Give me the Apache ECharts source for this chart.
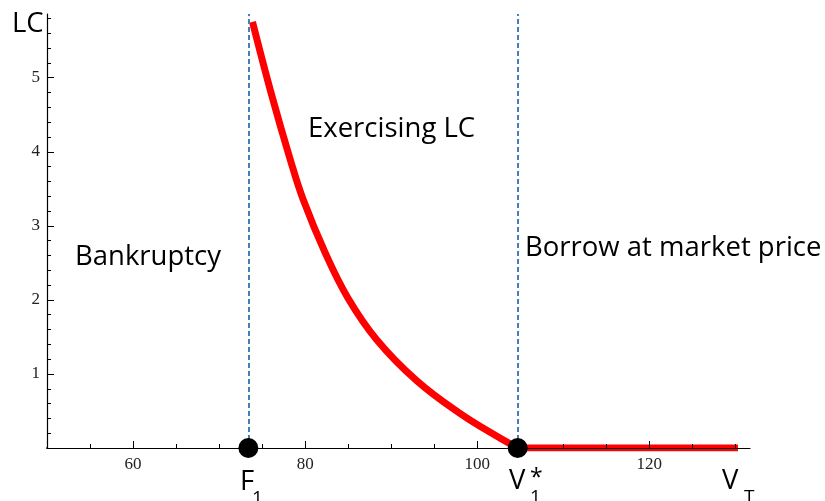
<!DOCTYPE html>
<html>
<head>
<meta charset="utf-8">
<script src="https://cdn.jsdelivr.net/npm/echarts@6/dist/echarts.min.js"></script>
<style>
html,body{margin:0;padding:0;background:#fff;}
#chart{width:825px;height:501px;}
</style>
</head>
<body>
<div id="chart"></div>
<script>
// ---- data ----
const curveX = [73.88, 76.1, 78.30, 79.77, 82.29, 84.97, 88.34, 92.99, 97.99, 102.29, 104.7];
const curveY = [5.754, 4.77, 3.883, 3.355, 2.646, 2.026, 1.459, 0.906, 0.467, 0.157, 0.00];
const flatX = [104.7, 130.3];
const flatY = [0, 0];
const F1 = 73.4;
const V1star = 104.7;
const xMajorTicks = [60, 80, 100, 120];
const xMinorTicks = [55, 65, 70, 75, 85, 90, 95, 105, 110, 115, 125, 130];
const yMajorTicks = [1, 2, 3, 4, 5];
const yMinorTicks = [0.2, 0.4, 0.6, 0.8, 1.2, 1.4, 1.6, 1.8, 2.2, 2.4, 2.6, 2.8, 3.2, 3.4, 3.6, 3.8, 4.2, 4.4, 4.6, 4.8, 5.2, 5.4, 5.6, 5.8];
const xMin = 50, xMax = 131.7, yMin = 0, yMax = 5.86;
const regionLabels = ['Bankruptcy', 'Exercising LC', 'Borrow at market price'];

const chart = echarts.init(document.getElementById('chart'), null, {renderer: 'canvas'});
const tickFont = {fontFamily: 'Liberation Serif', fontSize: 17, color: '#222'};
const textFont = '27.5px "Open Sans"';
const subFont = '19px "Open Sans"';

function xAxisDef(ticks, len, withLabels, showLine) {
  return {
    type: 'value', min: xMin, max: xMax, position: 'bottom', z: 3,
    axisLine: {show: showLine, onZero: false, lineStyle: {color: '#000', width: 1.2}},
    axisTick: {show: true, inside: true, length: len, customValues: ticks, lineStyle: {color: '#000', width: 1}},
    axisLabel: withLabels ? Object.assign({show: true, margin: 8, customValues: ticks}, tickFont) : {show: false},
    splitLine: {show: false}
  };
}
function yAxisDef(ticks, len, withLabels, showLine) {
  return {
    type: 'value', min: yMin, max: yMax, position: 'left', z: 3,
    axisLine: {show: showLine, onZero: false, lineStyle: {color: '#000', width: 1.2}},
    axisTick: {show: true, inside: true, length: len, customValues: ticks, lineStyle: {color: '#000', width: 1}},
    axisLabel: withLabels ? Object.assign({show: true, margin: 7, customValues: ticks}, tickFont) : {show: false},
    splitLine: {show: false}
  };
}

const option = {
  animation: false,
  backgroundColor: '#fff',
  grid: {left: 47, right: 75, top: 14, bottom: 53, containLabel: false},
  xAxis: [xAxisDef(xMinorTicks, 4, false, true), xAxisDef(xMajorTicks, 7, true, false)],
  yAxis: [yAxisDef(yMinorTicks, 4, false, true), yAxisDef(yMajorTicks, 7, true, false)],
  series: [
    {
      type: 'line', name: 'axisExt', data: [[48.2, 0], [xMin, 0]], clip: false,
      showSymbol: false, silent: true, z: 3,
      lineStyle: {color: '#000', width: 1.2}
    },
    {
      type: 'line', name: 'LC', data: curveX.map((x, i) => [x, curveY[i]]),
      smooth: 0.4, showSymbol: false, z: 2,
      lineStyle: {color: '#ff0000', width: 7, cap: 'butt'},
      markLine: {
        silent: true, symbol: 'none', label: {show: false},
        lineStyle: {color: '#4a7ebb', width: 2, type: [5, 3]},
        data: [{xAxis: F1}, {xAxis: V1star}]
      }
    },
    {
      type: 'line', name: 'flat', data: flatX.map((x, i) => [x, flatY[i]]),
      showSymbol: false, z: 2,
      lineStyle: {color: '#ff0000', width: 7, cap: 'butt'}
    },
    {
      type: 'scatter', name: 'points', data: [[F1, 0], [V1star, 0]],
      symbol: 'circle', symbolSize: 20, clip: false, z: 5,
      itemStyle: {color: '#000', opacity: 1}
    }
  ],
  graphic: [
    {type: 'text', z: 10, style: {text: regionLabels[0], x: 75, y: 257, font: textFont, fill: '#000', verticalAlign: 'middle'}},
    {type: 'text', z: 10, style: {text: regionLabels[1], x: 308, y: 129, font: textFont, fill: '#000', verticalAlign: 'middle'}},
    {type: 'text', z: 10, style: {text: regionLabels[2], x: 525, y: 248, font: textFont, fill: '#000', verticalAlign: 'middle'}},
    {type: 'text', z: 10, style: {text: 'LC', x: 12, y: 24, font: textFont, fill: '#000', verticalAlign: 'middle'}},
    {type: 'text', z: 10, style: {text: 'F', x: 240, y: 482, font: textFont, fill: '#000', verticalAlign: 'middle'}},
    {type: 'text', z: 10, style: {text: '1', x: 252, y: 499, font: subFont, fill: '#000', verticalAlign: 'middle'}},
    {type: 'text', z: 10, style: {text: 'V', x: 509, y: 481, font: textFont, fill: '#000', verticalAlign: 'middle'}},
    {type: 'text', z: 10, style: {text: '1', x: 530, y: 498, font: subFont, fill: '#000', verticalAlign: 'middle'}},
    {type: 'text', z: 10, style: {text: '*', x: 530, y: 478, font: '23px "Open Sans"', fill: '#000', verticalAlign: 'middle'}},
    {type: 'text', z: 10, style: {text: 'V', x: 722, y: 481, font: textFont, fill: '#000', verticalAlign: 'middle'}},
    {type: 'text', z: 10, style: {text: 'T', x: 744, y: 498, font: subFont, fill: '#000', verticalAlign: 'middle'}}
  ]
};
chart.setOption(option);
</script>
</body>
</html>
